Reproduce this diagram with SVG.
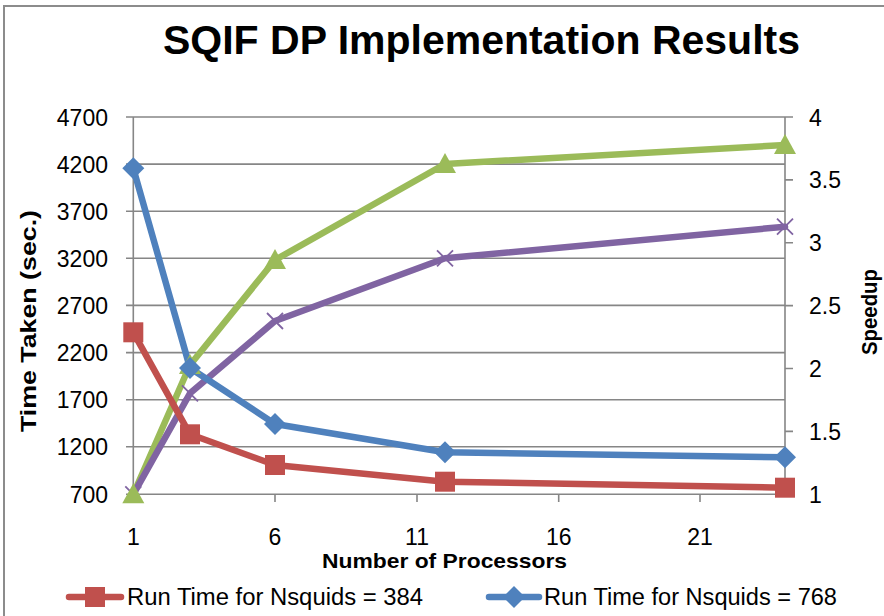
<svg xmlns="http://www.w3.org/2000/svg" width="884" height="616" viewBox="0 0 884 616">
<style>
.grid{stroke:#868686;stroke-width:1.6;fill:none}
.lbl{font-family:"Liberation Sans",Arial,sans-serif;font-size:23px;fill:#000}
.ttl{font-family:"Liberation Sans",Arial,sans-serif;font-weight:bold;fill:#000}
.s{fill:none;stroke-width:6.5;stroke-linejoin:round;stroke-linecap:round}
</style>
<defs>
<rect id="sq" x="-10" y="-10" width="20" height="20" fill="#C0504D"/>
<path id="dm" d="M0,-11 L11,0 L0,11 L-11,0 Z" fill="#4F81BD"/>
<path id="tr" d="M0,-11 L11,9 L-11,9 Z" fill="#9BBB59"/>
<path id="xx" d="M-8,-8 L8,8 M-8,8 L8,-8" stroke="#8064A2" stroke-width="1.8" fill="none"/>
</defs>
<rect x="0" y="0" width="884" height="616" fill="#fff"/>
<rect x="4" y="6" width="900" height="640" fill="none" stroke="#8c8c8c" stroke-width="2"/>
<text class="ttl" x="163" y="54" font-size="41" textLength="637" lengthAdjust="spacingAndGlyphs">SQIF DP Implementation Results</text>
<g id="axes">
<path class="grid" d="M126,117H793 M126,164.1H785 M126,211.2H785 M126,258.3H785 M126,305.4H785 M126,352.6H785 M126,399.7H785 M126,446.8H785 M126,494.3H785"/>
<path class="grid" d="M133.3,117V502 M785,117V494.3 M275,494.3V502 M417,494.3V502 M558.7,494.3V502 M700,494.3V502"/>
<path class="grid" d="M785,179.9H793 M785,242.8H793 M785,305.6H793 M785,368.5H793 M785,431.4H793 M785,494.3H793"/>
</g>
<g id="left-labels" class="lbl" text-anchor="end">
<text x="108" y="126">4700</text>
<text x="108" y="173">4200</text>
<text x="108" y="220">3700</text>
<text x="108" y="267">3200</text>
<text x="108" y="314">2700</text>
<text x="108" y="361">2200</text>
<text x="108" y="408">1700</text>
<text x="108" y="455">1200</text>
<text x="108" y="503">700</text>
</g>
<g id="right-labels" class="lbl">
<text x="809" y="126">4</text>
<text x="809" y="188">3.5</text>
<text x="809" y="251">3</text>
<text x="809" y="314">2.5</text>
<text x="809" y="377">2</text>
<text x="809" y="440">1.5</text>
<text x="809" y="503">1</text>
</g>
<g id="x-labels" class="lbl" text-anchor="middle">
<text x="133.3" y="545">1</text>
<text x="275" y="545">6</text>
<text x="417" y="545">11</text>
<text x="558.7" y="545">16</text>
<text x="700" y="545">21</text>
</g>
<text class="ttl" x="322" y="568" font-size="21" textLength="245" lengthAdjust="spacingAndGlyphs">Number of Processors</text>
<text class="ttl" font-size="22" transform="translate(36,432) rotate(-90)" textLength="222" lengthAdjust="spacingAndGlyphs">Time Taken (sec.)</text>
<text class="ttl" font-size="22" transform="translate(877,355) rotate(-90)" textLength="86" lengthAdjust="spacingAndGlyphs">Speedup</text>
<g id="connectors">
<polyline class="s" stroke="#9BBB59" points="133.3,494.3 190,365 275,260 445,164 785,145"/>
<polyline class="s" stroke="#8064A2" points="133.3,494.3 190,393.3 275,321 445,258.3 785,226.7"/>
<polyline class="s" stroke="#4F81BD" points="133.3,168.3 190,368 275,424 445,452.3 785,457.3"/>
<polyline class="s" stroke="#C0504D" points="133.3,332.3 190,434.3 275,465 445,481.7 785,487.7"/>
</g>
<g id="markers-speedup-768">
<use href="#xx" x="133.3" y="494.3"/><use href="#xx" x="190" y="393.3"/><use href="#xx" x="275" y="321"/><use href="#xx" x="445" y="258.3"/><use href="#xx" x="785" y="226.7"/>
</g>
<g id="markers-speedup-384">
<use href="#tr" x="133.3" y="494.3"/><use href="#tr" x="190" y="365"/><use href="#tr" x="275" y="260"/><use href="#tr" x="445" y="164"/><use href="#tr" x="785" y="145"/>
</g>
<g id="markers-768">
<use href="#dm" x="133.3" y="168.3"/><use href="#dm" x="190" y="368"/><use href="#dm" x="275" y="424"/><use href="#dm" x="445" y="452.3"/><use href="#dm" x="785" y="457.3"/>
</g>
<g id="markers-384">
<use href="#sq" x="133.3" y="332.3"/><use href="#sq" x="190" y="434.3"/><use href="#sq" x="275" y="465"/><use href="#sq" x="445" y="481.7"/><use href="#sq" x="785" y="487.7"/>
</g>
<g id="legend">
<line x1="69" y1="597" x2="121" y2="597" stroke="#C0504D" stroke-width="6.5" stroke-linecap="round"/>
<use href="#sq" x="95" y="597"/>
<text class="lbl" x="127" y="605" textLength="296" lengthAdjust="spacingAndGlyphs">Run Time for Nsquids = 384</text>
<line x1="489" y1="597" x2="539" y2="597" stroke="#4F81BD" stroke-width="6.5" stroke-linecap="round"/>
<use href="#dm" x="514" y="597"/>
<text class="lbl" x="544" y="605" textLength="293" lengthAdjust="spacingAndGlyphs">Run Time for Nsquids = 768</text>
</g>
</svg>
